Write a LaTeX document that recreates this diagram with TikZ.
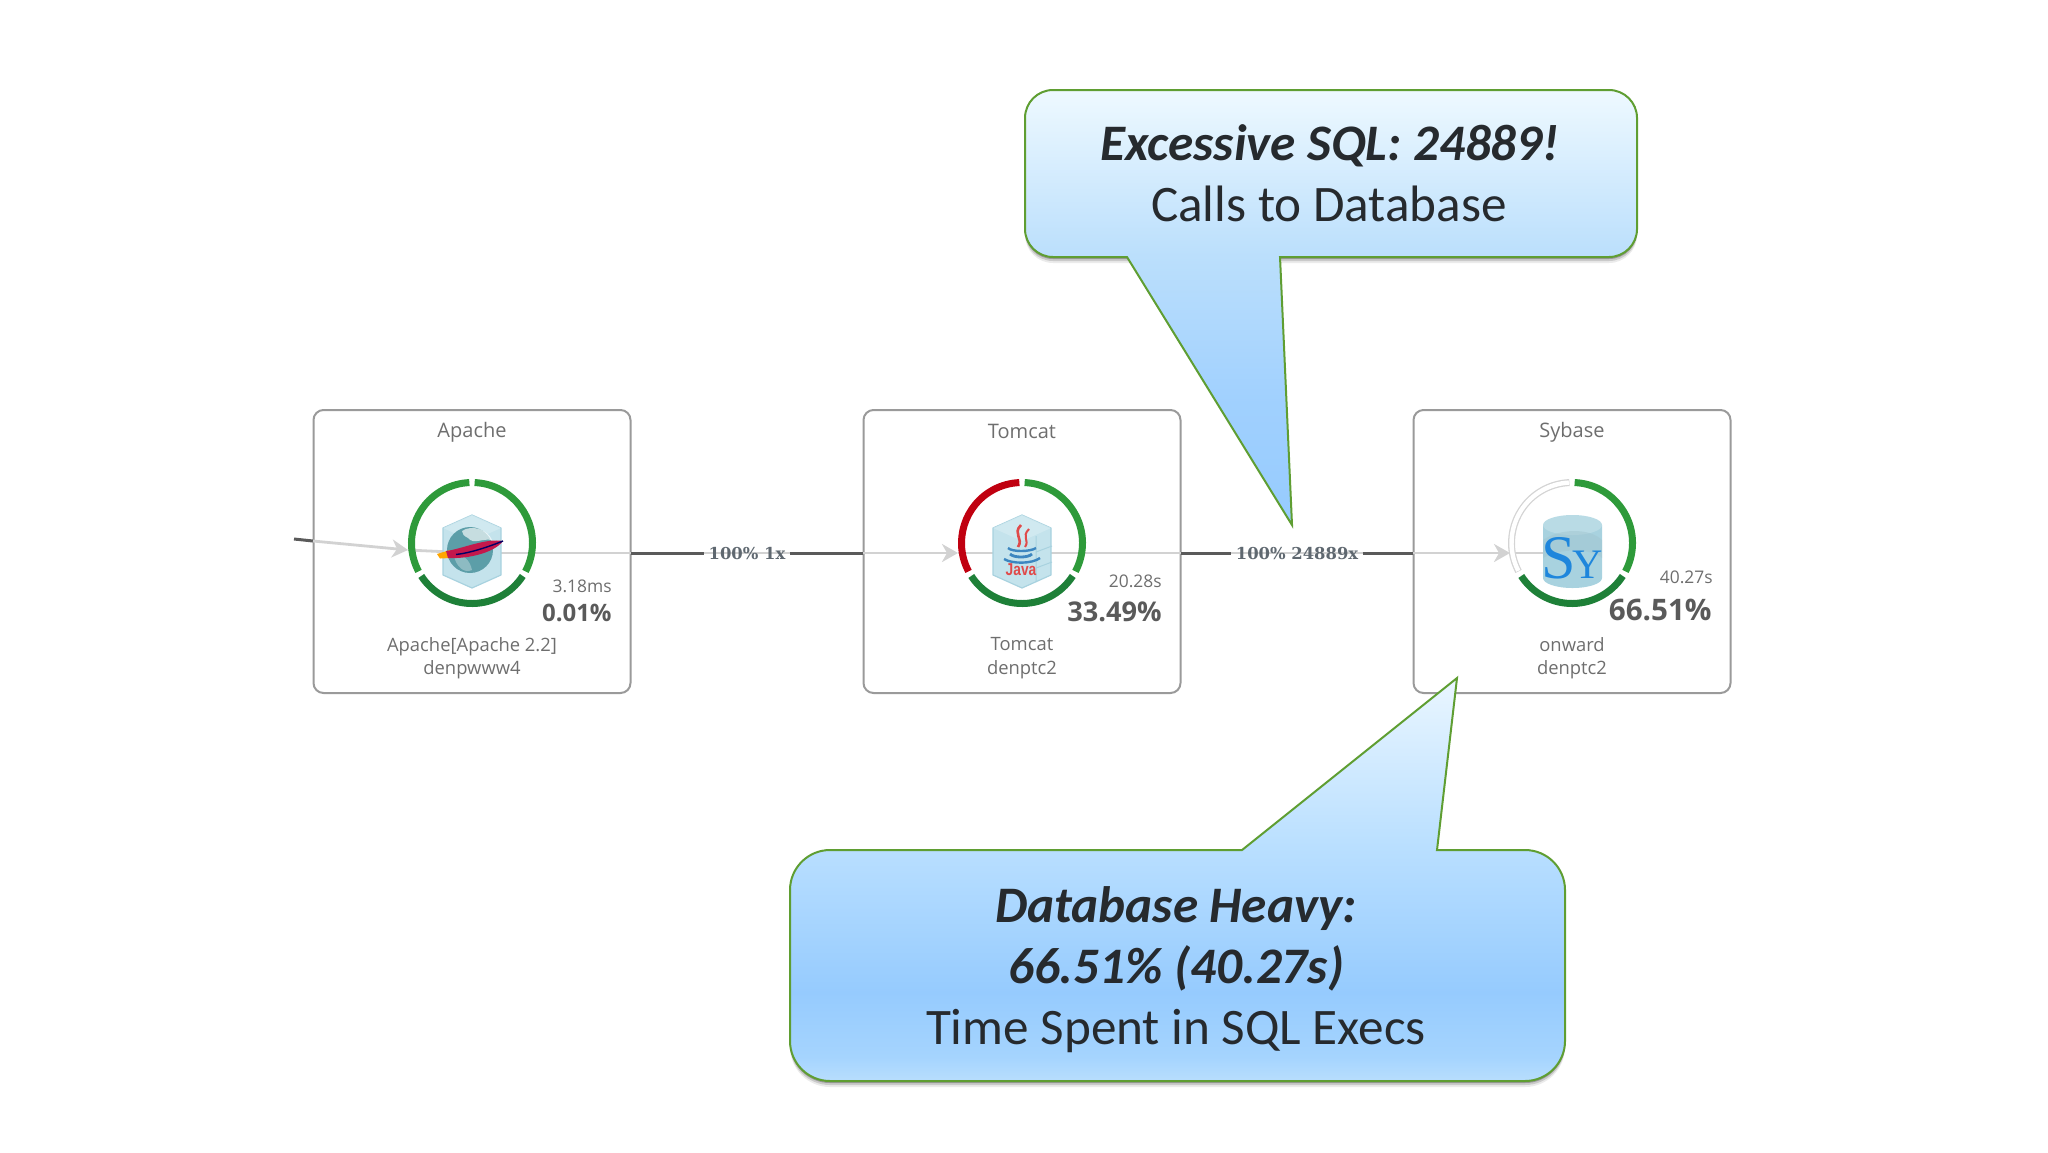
\documentclass[tikz,border=0pt]{standalone}
\usepackage{fontspec}
\setmainfont{Open Sans}
\newfontfamily\callfont{Carlito}
\newfontfamily\labfont{DejaVu Serif}
\newfontfamily\syfont{Liberation Serif}
\newfontfamily\javafont{Liberation Sans}
\usetikzlibrary{arrows.meta}
\definecolor{cA}{HTML}{96CBFE}
\definecolor{cB}{HTML}{A0D0FE}
\definecolor{cC}{HTML}{BBDFFC}
\definecolor{cD}{HTML}{EEF9FF}
\definecolor{dA}{HTML}{B8DEFD}
\definecolor{dB}{HTML}{A5D4FE}
\definecolor{dC}{HTML}{B9DFFF}
\definecolor{dD}{HTML}{EAF6FF}
\definecolor{callline}{HTML}{5F9E32}
\definecolor{calltext}{HTML}{262A2E}
\definecolor{boxline}{HTML}{9A9A9A}
\definecolor{nodetext}{HTML}{6E6E6E}
\definecolor{pcttext}{HTML}{5A5A5A}
\definecolor{edgetext}{HTML}{5F6870}
\definecolor{darkedge}{HTML}{5A5A5A}
\definecolor{lightedge}{HTML}{D2D2D2}
\definecolor{ringg}{HTML}{2E9A3A}
\definecolor{ringd}{HTML}{1E8038}
\definecolor{ringr}{HTML}{C00010}
\definecolor{ringw}{HTML}{D4D4D4}
\definecolor{cubeA}{HTML}{C4E3EC}
\definecolor{cubeB}{HTML}{A8D2DF}
\definecolor{cubeC}{HTML}{D6ECF2}
\definecolor{globe}{HTML}{5C9EA8}
\definecolor{javared}{HTML}{E04A4A}
\definecolor{javablue}{HTML}{3C86C0}
\definecolor{syblue}{HTML}{1E86DC}
\definecolor{feather}{HTML}{C4184C}
\pgfdeclareverticalshading{calloutA}{100bp}{color(0bp)=(cA);color(25bp)=(cA);color(39bp)=(cB);color(56bp)=(cC);color(75bp)=(cD);color(100bp)=(cD)}
\pgfdeclareverticalshading{calloutB}{100bp}{color(0bp)=(dA);color(25bp)=(dA);color(28bp)=(dB);color(36bp)=(cA);color(54bp)=(dC);color(75bp)=(dD);color(100bp)=(dD)}
\tikzset{
  x=0.5pt,y=-0.5pt,
  svcbox/.style={draw=boxline,line width=1pt,rounded corners=5pt,minimum width=158.5pt,minimum height=141.5pt,inner sep=0pt},
  svctitle/.style={font=\fontsize{10}{12}\selectfont,text=nodetext,inner sep=0pt},
  svcname/.style={font=\fontsize{9.2}{11.75}\selectfont,text=nodetext,align=center,inner sep=0pt},
  svctime/.style={font=\fontsize{8.7}{12}\selectfont,text=nodetext,inner sep=0pt,anchor=east},
  svcpct/.style={text=pcttext,inner sep=0pt,anchor=east},
  edgelabel/.style={font=\bfseries\labfont\fontsize{8.2}{10}\selectfont,text=edgetext,inner sep=2pt},
  darkline/.style={draw=darkedge,line width=1.5pt},
  lightline/.style={draw=lightedge,line width=1.4pt},
  lightarrow/.style={draw=lightedge,line width=1.4pt,-{Stealth[length=8pt,width=9pt,inset=2.5pt,fill=lightedge]}},
  ringseg/.style={line width=3.5pt,line cap=butt},
  callbody/.style={draw=callline,line width=1pt,line join=miter},
  calltxt/.style={font=\callfont\fontsize{25.6}{28}\selectfont,text=calltext,inner sep=0pt},
  callbold/.style={font=\callfont\bfseries\itshape\fontsize{25.6}{28}\selectfont,text=calltext,inner sep=0pt},
  cubeface/.style={fill=cubeA,draw=cubeB,line width=0.6pt,line join=round},
  cubeedge/.style={draw=cubeB,line width=0.5pt},
}
\newcommand{\ringset}[2]{% centre x, left colour
  \draw[ringseg,draw=ringg] (#1,543) ++(-87.5:60.5) arc[start angle=-87.5,end angle=28,radius=60.5];
  \draw[ringseg,draw=ringd] (#1,543) ++(33:60.5) arc[start angle=33,end angle=147,radius=60.5];
  \draw[ringseg,draw=#2] (#1,543) ++(152:60.5) arc[start angle=152,end angle=267.5,radius=60.5];
}
\newcommand{\cubeat}[1]{%
  \draw[cubeface] (#1,515) -- (#1+29,528) -- (#1+29,575) -- (#1,588) -- (#1-29,575) -- (#1-29,528) -- cycle;
  \fill[cubeC,opacity=.7] (#1,515) -- (#1+29,528) -- (#1,541) -- (#1-29,528) -- cycle;
}
\begin{document}
\begin{tikzpicture}
\useasboundingbox (0,0) rectangle (2048,1152);
% service boxes
\node[svcbox] (apache) at (472,551.5) {};
\node[svcbox] (tomcat) at (1022,551.5) {};
\node[svcbox] (sybase) at (1572,551.5) {};
\coordinate (inA) at (294,539);
\coordinate (inB) at (313,541);
\coordinate (tipA) at (408,550);
\coordinate (iconA) at (472,553);
\coordinate (iconT) at (1022,553);
\coordinate (iconS) at (1572,553);
\coordinate (apOut) at (631,553);
\coordinate (toIn) at (863,553);
\coordinate (toOut) at (1181,553);
\coordinate (syIn) at (1413,553);
\coordinate (tipT) at (958,553);
\coordinate (tipS) at (1510,553);
% connectors
\draw[lightline] (apOut) -- (toIn);
\draw[lightline] (toOut) -- (syIn);
\node[edgelabel] (lab1) at (747,554) {100\% 1x};
\node[edgelabel] (lab2) at (1297,554) {100\% 24889x};
\draw[darkline] (inA) -- (inB);
\draw[darkline] (apOut) -- (lab1.west |- apOut);
\draw[darkline] (lab1.east |- apOut) -- (toIn);
\draw[darkline] (toOut) -- (lab2.west |- toOut);
\draw[darkline] (lab2.east |- toOut) -- (syIn);
\draw[lightarrow] (inB) -- (tipA);
\draw[lightline] (tipA) -- (iconA);
\draw[lightline] (iconA) -- (apOut);
\draw[lightarrow] (toIn) -- (tipT);
\draw[lightline] (tipT) -- (iconT);
\draw[lightline] (iconT) -- (toOut);
\draw[lightarrow] (syIn) -- (tipS);
\draw[lightline] (tipS) -- (iconS);
% rings
\ringset{472}{ringg}
\ringset{1022}{ringr}
\ringset{1572}{ringw}
\draw[line width=2.2pt,draw=white] (1572,543) ++(152.6:60.5) arc[start angle=152.6,end angle=267,radius=60.5];
% apache icon
\cubeat{472}
\fill[globe] (470,550) circle[radius=23];
\fill[white,opacity=.65] (462,531) .. controls (472,524) and (488,530) .. (492,540) .. controls (482,538) and (474,545) .. (468,538) .. controls (464,536) and (462,534) .. (462,531) -- cycle;
\fill[white,opacity=.3] (454,556) .. controls (462,552) and (470,560) .. (472,570) .. controls (464,574) and (456,566) .. (454,556) -- cycle;
\fill[orange!70!yellow] (437,554) -- (450,550) -- (450,558) -- (440,558.5) -- cycle;
\fill[feather] (446,551) .. controls (462,549) and (485,538) .. (503,541) .. controls (495,552) and (470,559) .. (448,558) -- cycle;
\draw[black!60!blue,line width=.7pt] (456,554.5) .. controls (470,553) and (488,547) .. (503,541);
% java icon
\cubeat{1022}
\draw[cubeedge] (1052,546) -- (1036,552) (1052,562) -- (1036,568) (1036,536) -- (1036,582);
\draw[javared,line width=1.3pt] (1021,525) .. controls (1012,534) and (1024,538) .. (1018,547);
\draw[javared,line width=1pt] (1029,529) .. controls (1021,537) and (1030,540) .. (1025,547);
\draw[javablue,line width=1.2pt] (1008,548) .. controls (1012,552) and (1030,552) .. (1036,548);
\draw[javablue,line width=1.4pt] (1010,554) .. controls (1014,558) and (1028,558) .. (1032,554);
\draw[javablue,line width=1.2pt] (1004,559) .. controls (1012,564) and (1032,564) .. (1040,558);
\node[inner sep=0pt,font=\javafont\bfseries\fontsize{8.6}{10}\selectfont,text=javared,xscale=.8] (javalabel) at (1021,570) {Java};
% sybase icon
\fill[cubeB] (1543,525) -- (1543,578) arc[start angle=180,end angle=0,x radius=29.5,y radius=10] -- (1602,525) -- cycle;
\fill[cubeB!80!white] (1572.5,525) ellipse[x radius=29.5,y radius=10];
\fill[cubeB!85!gray,opacity=.5] (1543,540) .. controls (1560,528) and (1590,528) .. (1602,540) -- (1602,558) .. controls (1590,548) and (1560,548) .. (1543,558) -- cycle;
\node[inner sep=0pt,anchor=base,text=syblue,font=\syfont] (sylabel) at (1572,578) {\fontsize{31}{31}\selectfont S\kern-2pt\fontsize{21}{21}\selectfont Y};
% texts of the boxes
\node[svctitle] (t1) at (472,432) {Apache};
\node[svctitle] (t2) at (1022,431) {Tomcat};
\node[svctitle] (t3) at (1572,432) {Sybase};
\node[svcname] (n1) at (472,658) {Apache[Apache 2.2]\\denpwww4};
\node[svcname] (n2) at (1022,658) {Tomcat\\denptc2};
\node[svcname] (n3) at (1572,658) {onward\\denptc2};
\node[svctime] (d1) at (612,586) {3.18ms};
\node[svctime] (d2) at (1162,581) {20.28s};
\node[svctime] (d3) at (1713,577) {40.27s};
\node[svcpct,font=\bfseries\fontsize{12}{14}\selectfont] (p1) at (612,613) {0.01\%};
\node[svcpct,font=\bfseries\fontsize{13.6}{15}\selectfont] (p2) at (1162,612) {33.49\%};
\node[svcpct,font=\bfseries\fontsize{14.8}{16}\selectfont] (p3) at (1712,610) {66.51\%};
% callout shadows
\foreach \o/\a in {6/.08,4/.14,2/.25}{
  \fill[black,opacity=\a,rounded corners=14pt] (1025,90+\o) rectangle (1637,257+\o);
  \fill[black,opacity=\a,rounded corners=20pt] (790,850+\o) rectangle (1565,1081+\o);
}
% callouts
\shadedraw[shading=calloutA,callbody] (1127,257) -- (1292,525) -- (1280,257) [rounded corners=14pt] -- (1637,257) -- (1637,90) -- (1025,90) -- (1025,257) -- (1090,257) [sharp corners] -- (1127,257) -- cycle;
\shadedraw[shading=calloutB,callbody] (1437,850) -- (1457,678) -- (1242,850) [rounded corners=20pt] -- (790,850) -- (790,1081) -- (1565,1081) -- (1565,850) -- (1483,850) [sharp corners] -- (1437,850) -- cycle;
\node[callbold] (c1) at (1330,146) {Excessive SQL: 24889!};
\node[calltxt] (c2) at (1329,204) {Calls to Database};
\node[callbold] (c3) at (1176,909) {Database Heavy:};
\node[callbold] (c4) at (1176,968) {66.51\% (40.27s)};
\node[calltxt] (c5) at (1176,1031) {Time Spent in SQL Execs};
\end{tikzpicture}
\end{document}
